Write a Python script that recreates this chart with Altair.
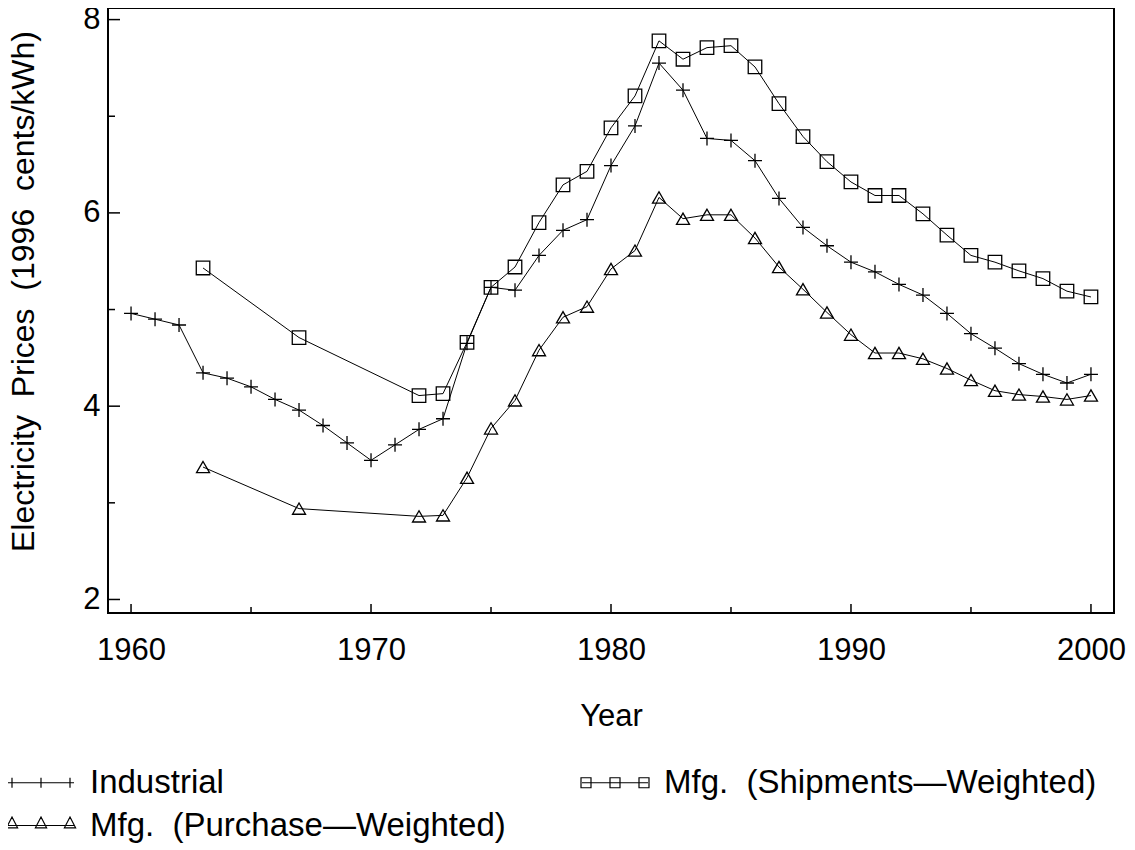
import altair as alt
import pandas as pd

FONT = "Liberation Sans"

# ---- data ----
years_ind = list(range(1960, 2001))
industrial = [4.96, 4.90, 4.84, 4.345, 4.29, 4.20, 4.07, 3.96, 3.80, 3.62,
              3.44, 3.60, 3.76, 3.87, 4.65, 5.23, 5.20, 5.56, 5.82, 5.93,
              6.49, 6.90, 7.55, 7.27, 6.77, 6.75, 6.54, 6.15, 5.85, 5.66,
              5.49, 5.39, 5.26, 5.15, 4.96, 4.75, 4.60, 4.44, 4.33, 4.24, 4.33]

years_mfg = [1963, 1967] + list(range(1972, 2001))
shipments = [5.43, 4.71,
             4.11, 4.13, 4.66, 5.23, 5.44, 5.90, 6.29, 6.43,
             6.88, 7.21, 7.78, 7.59, 7.71, 7.73, 7.51, 7.13, 6.79, 6.53,
             6.32, 6.18, 6.18, 5.99, 5.77, 5.56, 5.49, 5.40, 5.32, 5.19, 5.13]
purchase = [3.37, 2.94,
            2.86, 2.87, 3.26, 3.77, 4.06, 4.58, 4.92, 5.03,
            5.42, 5.61, 6.16, 5.94, 5.98, 5.98, 5.74, 5.44, 5.21, 4.97,
            4.74, 4.55, 4.55, 4.49, 4.39, 4.27, 4.16, 4.12, 4.10, 4.07, 4.11]

series_names = ["Industrial",
                "Mfg.\u00a0 (Shipments\u2014Weighted)",
                "Mfg.\u00a0 (Purchase\u2014Weighted)"]
legend_keys = ["a", "b", "c"]

x_major = [1960, 1970, 1980, 1990, 2000]
x_minor = [1965, 1975, 1985, 1995]
y_major = [2, 4, 6, 8]
y_minor = [3, 5, 7]

y_title = "Electricity\u00a0 Prices\u00a0 (1996\u00a0 cents/kWh)"

rows = []
for yr, v in zip(years_ind, industrial):
    rows.append({"series": series_names[0], "key": legend_keys[0], "year": yr, "value": v})
for yr, v in zip(years_mfg, shipments):
    rows.append({"series": series_names[1], "key": legend_keys[1], "year": yr, "value": v})
for yr, v in zip(years_mfg, purchase):
    rows.append({"series": series_names[2], "key": legend_keys[2], "year": yr, "value": v})
df = pd.DataFrame(rows)

# ---- marker shapes ----
plus_path = "M-1,0H1M0,-1V1"
# legend symbols: three markers on a line (path units = 10 px at symbolSize 400)
centers = [-2.9, 0.0, 2.9]
leg_plus = "M-3.3,0H3.3" + "".join(f"M{c:.2f},-0.5V0.5" for c in centers)
leg_sq = "M-3.3,0H3.3" + "".join(
    f"M{c-0.5:.2f},-0.5H{c+0.5:.2f}V0.5H{c-0.5:.2f}Z" for c in centers)
leg_tri = "M-3.3,0H3.3" + "".join(
    f"M{c:.2f},-0.85L{c+0.56:.2f},0.23L{c-0.56:.2f},0.23Z" for c in centers)

label_expr = ("[" + ",".join(f"'{n}'" for n in series_names) + "]"
              "[indexof([" + ",".join(f"'{k}'" for k in legend_keys) + "], datum.label)]")

xscale = alt.Scale(domain=[1959.04, 2000.96], nice=False, zero=False)
yscale = alt.Scale(domain=[1.86, 8.12], nice=False, zero=False)

x_enc = alt.X("year:Q", scale=xscale,
              axis=alt.Axis(values=x_major, format="d", title="Year",
                            ticks=False, tickSize=0, domain=False, grid=False,
                            labelFontSize=31, labelPadding=22, labelFlush=False,
                            labelOverlap=False, titleFontSize=31,
                            titleFontWeight="normal", titlePadding=36,
                            labelColor="black", titleColor="black",
                            labelFont=FONT, titleFont=FONT))
y_enc = alt.Y("value:Q", scale=yscale,
              axis=alt.Axis(values=y_major, format="d",
                            title=y_title,
                            ticks=False, tickSize=0, domain=False, grid=False,
                            labelFontSize=31, labelPadding=8,
                            labelOverlap=False, titleFontSize=32,
                            titleFontWeight="normal", titlePadding=42,
                            titleY=283,
                            labelColor="black", titleColor="black",
                            labelFont=FONT, titleFont=FONT))

base = alt.Chart(df)

lines = base.mark_line(color="black", strokeWidth=1).encode(
    x=x_enc, y=y_enc, detail="series:N")

points = base.mark_point(filled=False, color="black", strokeWidth=1.3,
                         opacity=1).encode(
    x=x_enc, y=y_enc,
    shape=alt.Shape("series:N",
                    scale=alt.Scale(domain=series_names,
                                    range=[plus_path, "square", "triangle-up"]),
                    legend=None),
    size=alt.Size("series:N",
                  scale=alt.Scale(domain=series_names, range=[196, 169, 169]),
                  legend=None),
)

legend_layer = base.transform_filter("false").mark_point(
    filled=False, color="black", strokeWidth=1.2, opacity=1).encode(
    x=x_enc, y=y_enc,
    shape=alt.Shape("key:N",
                    scale=alt.Scale(domain=legend_keys,
                                    range=[leg_plus, leg_sq, leg_tri]),
                    legend=alt.Legend(title=None, orient="none",
                                      direction="horizontal",
                                      labelExpr=label_expr,
                                      legendX=-100, legendY=758,
                                      columns=2, columnPadding=72,
                                      rowPadding=9, padding=0,
                                      labelFontSize=33, labelFont=FONT,
                                      labelColor="black", labelOffset=32.5,
                                      symbolOffset=16.5,
                                      labelLimit=0,
                                      symbolSize=400, symbolStrokeWidth=1.2,
                                      symbolStrokeColor="black",
                                      symbolFillColor="transparent")),
)

ymaj = alt.Chart(pd.DataFrame({"value": y_major})).mark_rule(
    color="black", strokeWidth=1.5).encode(
    y=alt.Y("value:Q", scale=yscale), x=alt.value(0), x2=alt.value(12))
ymin = alt.Chart(pd.DataFrame({"value": y_minor})).mark_rule(
    color="black", strokeWidth=1.5).encode(
    y=alt.Y("value:Q", scale=yscale), x=alt.value(0), x2=alt.value(7))
xmaj = alt.Chart(pd.DataFrame({"year": x_major})).mark_rule(
    color="black", strokeWidth=1.5).encode(
    x=alt.X("year:Q", scale=xscale), y=alt.value(605), y2=alt.value(596))
xmin = alt.Chart(pd.DataFrame({"year": x_minor})).mark_rule(
    color="black", strokeWidth=1.5).encode(
    x=alt.X("year:Q", scale=xscale), y=alt.value(605), y2=alt.value(599))

chart = alt.layer(lines, points, legend_layer, ymaj, ymin, xmaj, xmin).resolve_scale(
    shape="independent", size="independent"
).properties(
    width=1006, height=605,
    autosize=alt.AutoSizeParams(type="none"),
    padding={"left": 100, "top": 0, "right": 13, "bottom": 230},
).configure(font=FONT).configure_view(
    stroke="black", strokeWidth=2
)

chart.save("out.html", embed_options={"renderer": "svg", "actions": False})
